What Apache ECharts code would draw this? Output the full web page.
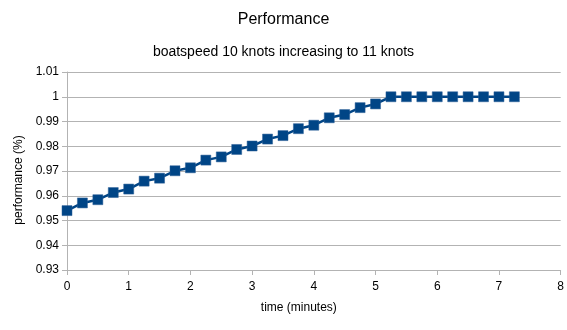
<!DOCTYPE html>
<html><head><meta charset="utf-8">
<script src="https://cdn.jsdelivr.net/npm/echarts@6/dist/echarts.min.js"></script>
<style>html,body{margin:0;padding:0;background:#fff}#c{width:567px;height:330px}</style>
</head><body><div id="c"></div>
<script>
const times = [0,0.25,0.5,0.75,1,1.25,1.5,1.75,2,2.25,2.5,2.75,3,3.25,3.5,3.75,4,4.25,4.5,4.75,5,5.25,5.5,5.75,6,6.25,6.5,6.75,7,7.25];
const performance = [0.954,0.9571,0.9584,0.9613,0.9627,0.9659,0.9671,0.9701,0.9713,0.9744,0.9757,0.9787,0.9801,0.9829,0.9843,0.9871,0.9885,0.9915,0.9928,0.9956,0.9971,1,1,1,1,1,1,1,1,1];
const titleText = 'Performance';
const subtitleText = 'boatspeed 10 knots increasing to 11 knots';
const xName = 'time (minutes)';
const yName = 'performance (%)';

const font = '"Liberation Sans", Arial, sans-serif';
const chart = echarts.init(document.getElementById('c'));
chart.setOption({
  animation: false,
  textStyle: {fontFamily: font},
  title: [
    {text: titleText, left: 'center', top: 7, textStyle: {fontFamily: font, fontSize: 16, fontWeight: 'normal', color: '#000'}},
    {text: subtitleText, left: 'center', top: 40, textStyle: {fontFamily: font, fontSize: 14, fontWeight: 'normal', color: '#000'}}
  ],
  grid: {left: 67, right: 6, top: 72, bottom: 60},
  xAxis: {
    type: 'value', min: 0, max: 8, interval: 1,
    name: xName, nameLocation: 'middle', nameGap: 32,
    nameTextStyle: {fontFamily: font, fontSize: 12, color: '#000', padding: [0, 30, 0, 0]},
    axisLine: {show: true, lineStyle: {color: '#b3b3b3'}},
    axisTick: {show: true, length: 5, lineStyle: {color: '#b3b3b3'}},
    axisLabel: {fontFamily: font, fontSize: 12, color: '#000', margin: 11},
    splitLine: {show: false}
  },
  yAxis: {
    type: 'value', min: 0.93, max: 1.01, interval: 0.01,
    name: yName, nameLocation: 'middle', nameGap: 39,
    nameTextStyle: {fontFamily: font, fontSize: 12, color: '#000', padding: [0, 18, 0, 0]},
    axisLine: {show: true, lineStyle: {color: '#b3b3b3'}},
    axisTick: {show: true, length: 5, lineStyle: {color: '#b3b3b3'}},
    axisLabel: {fontFamily: font, fontSize: 12, color: '#000', margin: 8,
      formatter: v => String(Math.round(v * 100) / 100)},
    splitLine: {show: true, lineStyle: {color: '#b3b3b3', width: 1}}
  },
  series: [{
    type: 'line',
    data: times.map((t, i) => [t, performance[i]]),
    symbol: 'rect', symbolSize: 10,
    lineStyle: {color: '#004586', width: 2.5},
    itemStyle: {color: '#004586', borderColor: '#2a5f96', borderWidth: 0.5}
  }]
});
</script></body></html>
